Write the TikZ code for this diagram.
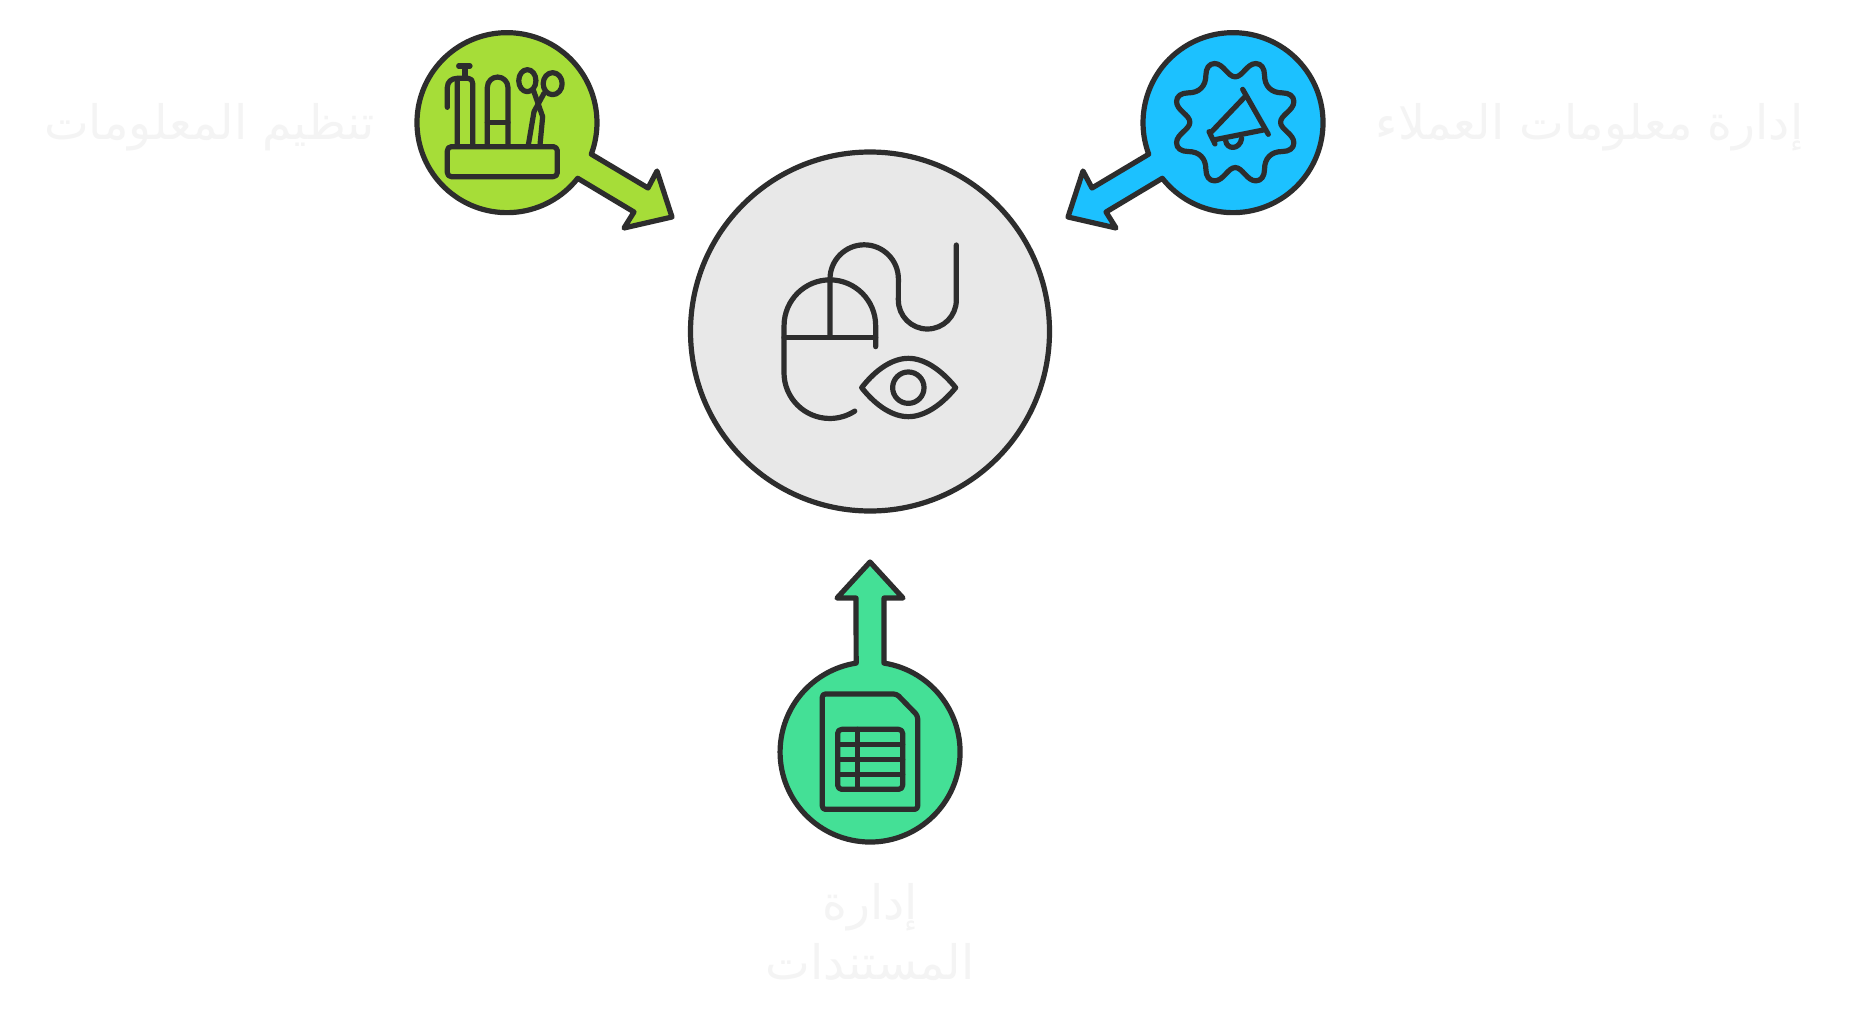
\documentclass[tikz,border=0pt]{standalone}
\usepackage{fontspec}
\newfontfamily\arabicfont[Script=Arabic]{DejaVu Sans}
\TeXXeTstate=1
\definecolor{inkc}{HTML}{2D2D2D}
\definecolor{limec}{HTML}{A6DD38}
\definecolor{skyc}{HTML}{1CC1FF}
\definecolor{mintc}{HTML}{44E096}
\definecolor{greyc}{HTML}{E8E8E8}
\definecolor{labelc}{HTML}{F4F4F4}
\tikzset{
  outline/.style={draw=inkc,line width=5.2pt,line join=round,line cap=round},
  glyph/.style={draw=inkc,line width=5.2pt,line join=round,line cap=round},
  lbl/.style={text=labelc,font=\arabicfont\fontsize{47.5}{60}\selectfont,inner sep=0pt,align=center},
  zoomed/.style={x=0.33333pt,y=-0.33333pt},
}
\begin{document}
\begin{tikzpicture}[x=1pt,y=-1pt]
\useasboundingbox (0,0) rectangle (1860,1023);
\fill[white] (0,0) rectangle (1860,1023);
% centre
\draw[outline,fill=greyc] (870,331.5) circle[radius=179.5pt];
% green
\draw[outline,fill=limec] (577.7,178.3) arc[start angle=-38.2,end angle=-380.5,radius=90pt]
  -- (648,188) -- (657,171) -- (672,217) -- (624,228) -- (634,212) -- cycle;
% blue
\draw[outline,fill=skyc] (1162.3,178.3) arc[start angle=-141.8,end angle=200.5,radius=90pt]
  -- (1092,188) -- (1083,171) -- (1068,217) -- (1116,228) -- (1106,212) -- cycle;
% mint
\draw[outline,fill=mintc] (884,663.1) arc[start angle=81.1,end angle=-261.1,radius=90pt]
  -- (856,598) -- (837,598) -- (870,562) -- (903,598) -- (884,598) -- cycle;
% mouse + eye
\begin{scope}[shift={(740,220)},zoomed]
\draw[glyph] (407,380) -- (407,317) arc[start angle=0,end angle=180,radius=45.8pt] -- (132,458)
  arc[start angle=180,end angle=303,radius=45.8pt];
\draw[glyph] (132,352) -- (407,352);
\draw[glyph] (270,352) -- (270,177) arc[start angle=180,end angle=0,radius=34.2pt] -- (475,240)
  arc[start angle=180,end angle=360,radius=29pt] -- (649,75);
\draw[glyph] (365,503) .. controls (410,445) and (460,415) .. (505,415) .. controls (550,415) and (600,445) .. (647,503)
  .. controls (600,560) and (550,590) .. (505,590) .. controls (460,590) and (410,560) .. (365,503) -- cycle;
\draw[glyph] (505,503) circle[radius=15.7pt];
\end{scope}
% stationery
\begin{scope}[shift={(400,10)},zoomed]
\draw[glyph,rounded corners=4pt] (142,410) rectangle (472,500);
\draw[glyph] (172,405) -- (172,205) -- (205,205) .. controls (214,205) and (218,212) .. (218,220) -- (218,405);
\draw[glyph] (142,292) -- (142,232) .. controls (142,215) and (155,205) .. (172,205);
\draw[glyph] (195,205) -- (195,168);
\draw[glyph] (176,168) -- (210,168);
\draw[glyph] (262,405) -- (262,232) arc[start angle=180,end angle=0,radius=10.3pt] -- (324,405);
\draw[glyph] (262,338) -- (324,338);
\draw[glyph] (382,212) ellipse[x radius=8.6pt,y radius=11pt];
\draw[glyph] (458,221) ellipse[x radius=9.5pt,y radius=11pt];
\draw[glyph] (400,240) -- (428,320) -- (420,405);
\draw[glyph] (432,250) -- (402,305) -- (385,405);
\end{scope}
% gear
\begin{scope}[shift={(1235.2,122.2)},zoomed]
\draw[glyph] (0,-136)
 .. controls (-22,-136) and (-35,-176) .. (-62,-176)
 .. controls (-78,-176) and (-88,-162) .. (-88,-141)
 .. controls (-88,-108) and (-108,-88) .. (-141,-88)
 .. controls (-162,-88) and (-176,-78) .. (-176,-62)
 .. controls (-176,-35) and (-136,-22) .. (-136,0)
 .. controls (-136,22) and (-176,35) .. (-176,62)
 .. controls (-176,78) and (-162,88) .. (-141,88)
 .. controls (-108,88) and (-88,108) .. (-88,141)
 .. controls (-88,162) and (-78,176) .. (-62,176)
 .. controls (-35,176) and (-22,136) .. (0,136)
 .. controls (22,136) and (35,176) .. (62,176)
 .. controls (78,176) and (88,162) .. (88,141)
 .. controls (88,108) and (108,88) .. (141,88)
 .. controls (162,88) and (176,78) .. (176,62)
 .. controls (176,35) and (136,22) .. (136,0)
 .. controls (136,-22) and (176,-35) .. (176,-62)
 .. controls (176,-78) and (162,-88) .. (141,-88)
 .. controls (108,-88) and (88,-108) .. (88,-141)
 .. controls (88,-162) and (78,-176) .. (62,-176)
 .. controls (35,-176) and (22,-136) .. (0,-136) -- cycle;
\end{scope}
\begin{scope}[shift={(1060,10)},zoomed]
\draw[glyph] (548,238) -- (625,373);
\draw[glyph] (555,260) -- (455,365);
\draw[glyph] (610,360) -- (460,390);
\draw[glyph] (447,365) -- (465,402);
\draw[glyph] (497,392) .. controls (500,420) and (540,420) .. (545,385);
\end{scope}
% document
\begin{scope}[shift={(760,550)},zoomed]
\draw[glyph,rounded corners=3pt] (187,432) -- (410,432) -- (473,497) -- (473,778) -- (187,778) -- cycle;
\draw[glyph,rounded corners=4pt] (233,538) rectangle (428,718);
\draw[glyph] (292,538) -- (292,718);
\draw[glyph] (233,583) -- (428,583);
\draw[glyph] (233,628) -- (428,628);
\draw[glyph] (233,673) -- (428,673);
\end{scope}
% labels
\node[lbl] (lorg) at (209.5,127) {\beginR تنظيم المعلومات\endR};
\node[lbl] (lcrm) at (1589.5,127) {\beginR إدارة معلومات العملاء\endR};
\node[lbl] (ldoc) at (870,932) {\beginR إدارة\endR\\\beginR المستندات\endR};
\end{tikzpicture}
\end{document}
